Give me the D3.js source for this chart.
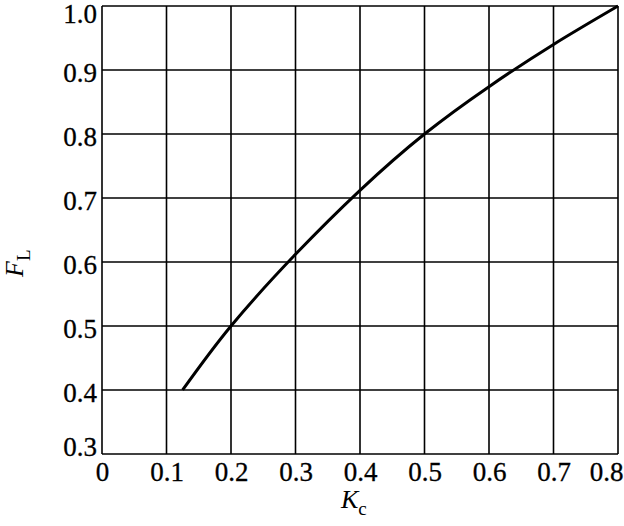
<!DOCTYPE html>
<html><head><meta charset="utf-8">
<script src="https://cdn.jsdelivr.net/npm/d3@7"></script>
<style>body{margin:0;background:#fff}svg{display:block}</style>
</head><body>
<script>
const kc = [0.125, 0.2, 0.3, 0.4, 0.5, 0.6, 0.7, 0.8];
const fl = [0.40, 0.50, 0.612, 0.712, 0.80, 0.874, 0.94, 1.0];
const xTicks = [0, 0.1, 0.2, 0.3, 0.4, 0.5, 0.6, 0.7, 0.8];
const yTicks = [0.3, 0.4, 0.5, 0.6, 0.7, 0.8, 0.9, 1.0];

const W = 624, H = 526;
const svg = d3.select("body").append("svg").attr("width", W).attr("height", H);
const x = d3.scaleLinear().domain([0, 0.8]).range([102, 618]);
const y = d3.scaleLinear().domain([0.3, 1.0]).range([454, 6]);
const font = "'Liberation Serif','Times New Roman',serif";
const fs = 27;

// grid
svg.append("g").selectAll("line").data(xTicks).join("line")
  .attr("x1", d => x(d)).attr("x2", d => x(d)).attr("y1", y(0.3)).attr("y2", y(1.0))
  .attr("stroke", "#000").attr("stroke-width", 1.6);
svg.append("g").selectAll("line").data(yTicks).join("line")
  .attr("y1", d => y(d)).attr("y2", d => y(d)).attr("x1", x(0)).attr("x2", x(0.8))
  .attr("stroke", "#000").attr("stroke-width", 1.6);

// axes (labels only)
const xAxis = svg.append("g").attr("transform", `translate(0,${y(0.3)})`)
  .call(d3.axisBottom(x).tickValues(xTicks).tickFormat(d => d === 0 ? "0" : d3.format(".1f")(d)).tickSize(0).tickPadding(8));
xAxis.select(".domain").remove();
xAxis.selectAll("text").attr("font-family", font).attr("font-size", fs).attr("fill", "#000")
  .attr("stroke", "#000").attr("stroke-width", 0.3)
  .attr("dx", d => d === 0.8 ? -12 : 0);

const yAxis = svg.append("g").attr("transform", `translate(${x(0)},0)`)
  .call(d3.axisLeft(y).tickValues(yTicks).tickFormat(d3.format(".1f")).tickSize(0).tickPadding(5));
yAxis.select(".domain").remove();
yAxis.selectAll("text").attr("font-family", font).attr("font-size", fs).attr("fill", "#000")
  .attr("stroke", "#000").attr("stroke-width", 0.3)
  .attr("dy", d => d === 1.0 ? 16 : d === 0.3 ? 1 : 11.3);

// curve
const pts = kc.map((k, i) => [k, fl[i]]);
svg.append("path").datum(pts)
  .attr("d", d3.line().x(d => x(d[0])).y(d => y(d[1])).curve(d3.curveNatural))
  .attr("fill", "none").attr("stroke", "#000").attr("stroke-width", 3);

// axis titles
const xt = svg.append("text").attr("x", 341).attr("y", 508).attr("font-family", font).attr("font-size", 26);
xt.append("tspan").attr("font-style", "italic").text("K");
xt.append("tspan").attr("font-size", 19).attr("dy", 7).text("c");

const yt = svg.append("text").attr("transform", "translate(23,277) rotate(-90)").attr("font-family", font).attr("font-size", 26);
yt.append("tspan").attr("font-style", "italic").text("F");
yt.append("tspan").attr("font-size", 19).attr("dy", 7).text("L");
</script>
</body></html>
